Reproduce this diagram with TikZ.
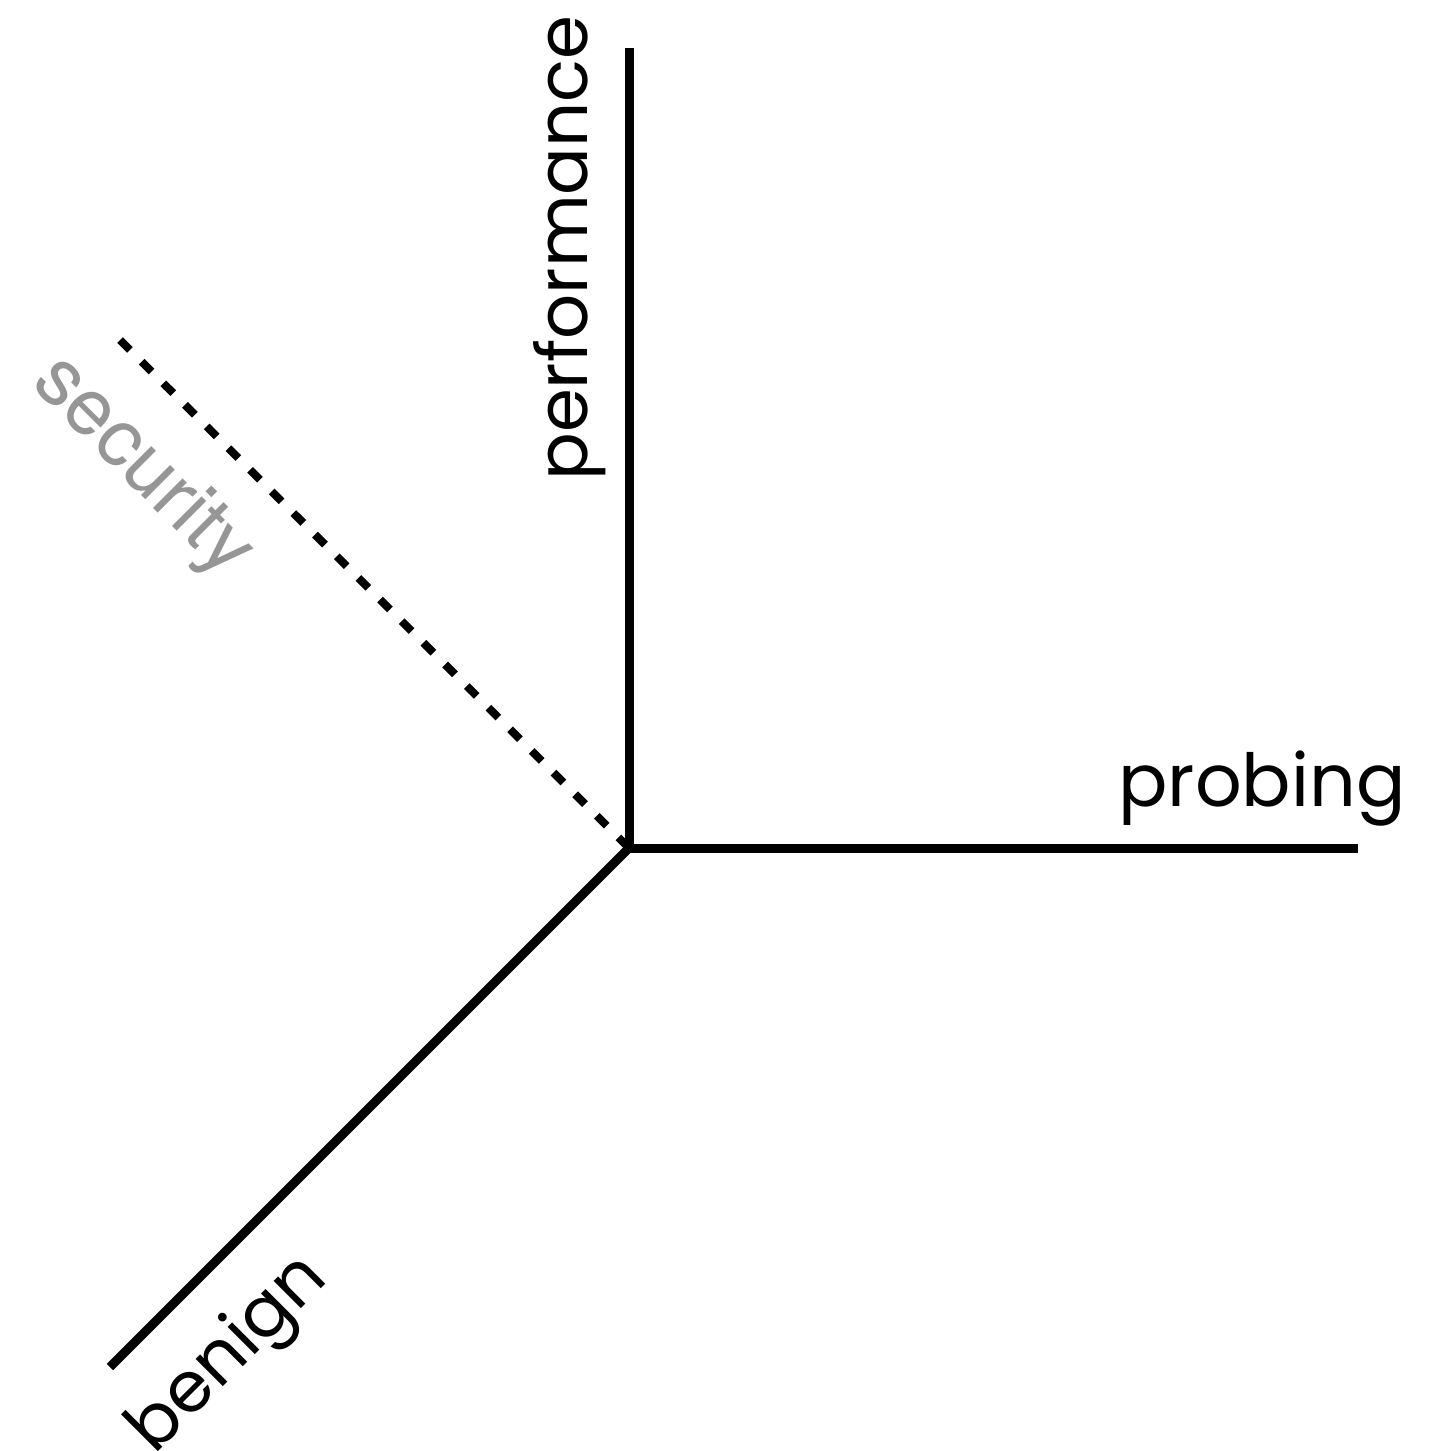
\documentclass[tikz,border=0pt]{standalone}
\usepackage{fontspec}
\setmainfont{Poppins}
\newfontfamily\helvfont{TeX Gyre Heros}
\definecolor{secgray}{RGB}{150,150,150}
\begin{document}
\begin{tikzpicture}[x=0.01cm,y=-0.01cm]
\tikzset{
  axis/.style={line width=0.09cm, line cap=butt},
  dotaxis/.style={line width=0.08cm, dash pattern=on 0.14cm off 0.166cm},
  lab/.style={inner sep=0pt, outer sep=0pt}
}
\useasboundingbox (0,0) rectangle (1434,1451);
\coordinate (O) at (629,848);
\coordinate (perfEnd) at (629,48);
\coordinate (probEnd) at (1358,848);
\coordinate (benEnd) at (110,1367);
\coordinate (secEnd) at (120,340);
\draw[dotaxis] (secEnd) -- (O);
\draw[axis] (O) -- (perfEnd);
\draw[axis] (O) -- (probEnd);
\draw[axis] (O) -- (benEnd);
\node[lab, anchor=base, rotate=90] (perf) at (587,248) {\resizebox{4.65cm}{!}{performance}};
\node[lab, anchor=base] (prob) at (1262,806) {\resizebox{2.87cm}{!}{probing}};
\node[lab, anchor=base, rotate=45] (ben) at (242,1368) {\resizebox{2.46cm}{!}{benign}};
\node[lab, anchor=base, rotate=-45, text=secgray] (sec) at (128,482) {\resizebox{2.75cm}{!}{\helvfont security}};
\end{tikzpicture}
\end{document}
